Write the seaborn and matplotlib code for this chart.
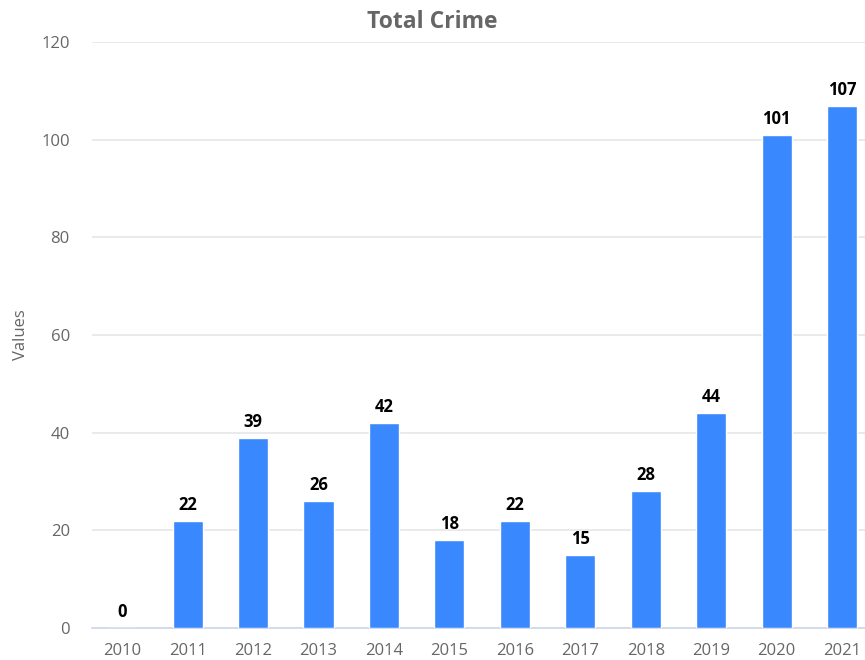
import matplotlib
matplotlib.use("Agg")
import matplotlib.pyplot as plt
import seaborn as sns
import pandas as pd

# ---------------------------- DATA ---------------------------------
years = ["2010", "2011", "2012", "2013", "2014", "2015",
         "2016", "2017", "2018", "2019", "2020", "2021"]
crimes = [0, 22, 39, 26, 42, 18, 22, 15, 28, 44, 101, 107]

TITLE = "Total Crime"
Y_LABEL = "Values"
BAR_COLOR = "#3a88fe"
TEXT_GREY = "#666666"

df = pd.DataFrame({"year": years, "value": crimes})

sns.set_theme(style="white")
plt.rcParams["font.family"] = ["Open Sans", "DejaVu Sans"]

fig = plt.figure(figsize=(8.65, 6.6), dpi=100)
ax = fig.add_axes([0.1064, 0.0485, 0.8936, 0.8875])

sns.barplot(data=df, x="year", y="value", color=BAR_COLOR, width=0.46,
            saturation=1, ax=ax, zorder=3)

ax.set_ylim(0, 120)
ax.set_xlim(-0.46, 11.35)
ax.set_yticks(range(0, 121, 20))
ax.yaxis.grid(True, color="#e6e6e6", linewidth=1.2, zorder=0)
ax.set_axisbelow(True)

for side in ["top", "right", "left"]:
    ax.spines[side].set_visible(False)
ax.spines["bottom"].set_color("#ccd6eb")
ax.spines["bottom"].set_linewidth(1.2)

ax.tick_params(axis="both", length=0, labelsize=12, colors=TEXT_GREY)
ax.tick_params(axis="y", pad=16)
ax.tick_params(axis="x", pad=11)
ax.set_xlabel("")
ax.set_ylabel(Y_LABEL, fontsize=12, color=TEXT_GREY, labelpad=9)

# value labels on top of bars
for i, v in enumerate(crimes):
    ax.annotate(str(v), (i, v), xytext=(0, 5), textcoords="offset points",
                ha="center", va="bottom", fontsize=12, fontweight="bold",
                color="black")

fig.text(0.5, 0.966, TITLE, ha="center", va="center", fontsize=16.5,
         fontweight="bold", color=TEXT_GREY)

fig.savefig("out.png", dpi=100)
